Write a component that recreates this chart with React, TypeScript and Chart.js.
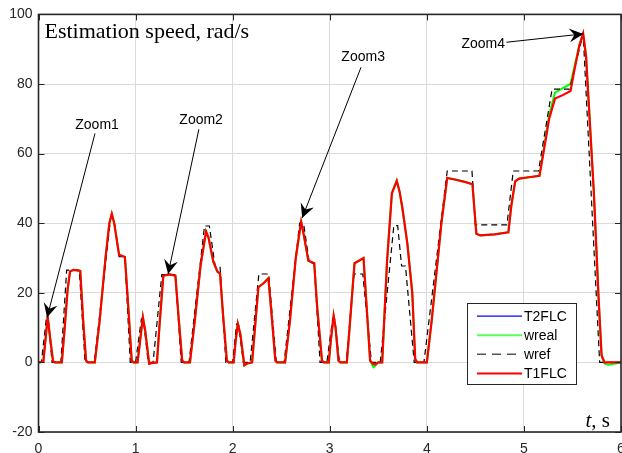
import React, { useEffect, useRef } from "react";
import { Chart, registerables } from "chart.js";

Chart.register(...registerables);

// ---------- data ----------
const X_TICKS = [0, 1, 2, 3, 4, 5, 6];
const Y_TICKS = [-20, 0, 20, 40, 60, 80, 100];

const TIME_EST = [
  0.0, 0.05, 0.07, 0.095, 0.12, 0.15, 0.17, 0.24, 0.27, 0.3, 0.325, 0.36, 0.43, 0.46, 0.49, 0.51,
  0.58, 0.63, 0.69, 0.73, 0.755, 0.78, 0.83, 0.89, 0.92, 0.96, 0.98,
  1.02, 1.05, 1.075, 1.1, 1.14, 1.16, 1.22, 1.25, 1.286, 1.35, 1.41, 1.44, 1.48, 1.5,
  1.56, 1.61, 1.67, 1.726, 1.75, 1.8, 1.843, 1.87, 1.9, 1.94, 1.96,
  2.01, 2.03, 2.053, 2.08, 2.12, 2.15, 2.2, 2.23, 2.265, 2.32, 2.368, 2.4, 2.44, 2.46,
  2.54, 2.59, 2.65, 2.705, 2.73, 2.78, 2.84, 2.87, 2.92, 2.94,
  2.99, 3.01, 3.04, 3.06, 3.09, 3.11, 3.176, 3.21, 3.255, 3.3, 3.348, 3.38, 3.416, 3.45, 3.468, 3.5,
  3.54, 3.59, 3.64, 3.69, 3.72, 3.75, 3.8, 3.85, 3.88, 3.9,
  4.0, 4.05, 4.1, 4.15, 4.21, 4.3, 4.4, 4.47, 4.49, 4.51, 4.55, 4.7, 4.84, 4.87, 4.91, 4.95,
  5.05, 5.16, 5.2, 5.26, 5.32, 5.4, 5.48, 5.52, 5.57, 5.61, 5.64, 5.72, 5.77, 5.8, 5.83, 5.87, 6.0,
];

const T1FLC = [
  0, 0.2, 6, 13, 7, 0.3, 0, 0, 10, 21, 26.1, 26.6, 26.3, 12, 0.5, 0,
  0, 12, 30, 40, 42.7, 40, 30.9, 30.3, 18, 0.5, 0,
  0, 7, 13, 9, -0.4, -0.2, 0, 12, 24.9, 25.3, 24.9, 14, 0.5, 0,
  0, 12, 28, 37.6, 36, 29, 26.1, 25.5, 14, 0.5, 0,
  0, 6, 11.1, 8, -0.8, -0.3, 0, 10, 21.6, 22.8, 24.2, 14, 0.5, 0,
  0, 12, 30, 40.4, 37, 29.2, 28.5, 16, 0.5, 0,
  0, 6, 13.4, 10, 0.5, 0, 0, 12, 28.5, 29.2, 30, 16, 0.5, -0.5, -0.6, 0,
  0, 29, 48.6, 52.2, 49, 44, 34, 20, 1, 0,
  0, 12, 26, 40, 53, 52.5, 51.8, 51.2, 44, 37, 36.5, 36.8, 37.4, 45, 52, 52.8,
  53.2, 53.6, 60, 70, 75.8, 76.8, 78, 84, 91, 94.5, 88, 49, 18, 2, 0, 0, 0,
];

const WREAL = [
  0, 0.2, 6, 13, 7, 0.3, 0, 0, 10, 21, 26.1, 26.6, 26.3, 12, 0.5, 0,
  0, 12, 30, 40, 42.7, 40, 30.9, 30.3, 18, 0.5, 0,
  0, 7, 13, 9, -0.4, -0.2, 0, 12, 24.9, 25.3, 24.9, 14, 0.5, 0,
  0, 12, 28, 37.6, 36, 29, 26.1, 25.5, 14, 0.5, 0,
  0, 6, 11.1, 8, -0.9, -0.3, 0, 10, 21.6, 22.8, 24.2, 14, 0.5, 0,
  0, 12, 30, 40.4, 37, 29.2, 28.5, 16, 0.5, 0,
  0, 6, 13.4, 10, 0.5, 0, 0, 12, 28.5, 29.2, 30, 16, 0.5, -1.4, -1.0, 0,
  0, 29, 48.6, 52.2, 49, 44, 34, 20, 1, 0,
  0, 12, 26, 40, 53, 52.5, 51.8, 51.2, 44, 37, 36.5, 36.8, 37.4, 45, 52, 52.8,
  53.2, 53.6, 60.5, 71, 77.5, 78.8, 80, 85, 91, 94.5, 88, 49, 18, 2, -0.3, -0.7, 0,
];

const T2FLC = [
  0, 0.2, 6, 13, 7, 0.3, 0, 0, 10, 21, 26.1, 26.6, 26.3, 12, 0.5, 0,
  0, 12, 30, 40, 42.7, 40, 30.9, 30.3, 18, 0.5, 0,
  0, 7, 13, 9, -0.4, -0.2, 0, 12, 24.9, 25.3, 24.9, 14, 0.5, 0,
  0, 12, 28, 37.6, 36, 29, 26.1, 25.5, 14, 0.5, 0,
  0, 6, 11.1, 8, -0.8, -0.3, 0, 10, 21.6, 22.8, 24.2, 14, 0.5, 0,
  0, 12, 30, 40.4, 37, 29.2, 28.5, 16, 0.5, 0,
  0, 6, 13.4, 10, 0.5, 0, 0, 12, 28.5, 29.2, 30, 16, 0.5, -0.5, -0.6, 0,
  0, 29, 48.6, 52.2, 49, 44, 34, 20, 1, 0,
  0, 12, 26, 40, 53, 52.5, 51.8, 51.2, 44, 37, 36.5, 36.8, 37.4, 45, 52, 52.8,
  53.2, 53.6, 60, 70, 75.8, 76.8, 78, 84, 91, 94.5, 88, 49, 18, 2, 0, 0, 0,
];

const TIME_REF = [
  0.0, 0.03, 0.08, 0.1, 0.14, 0.23, 0.29, 0.42, 0.48,
  0.575, 0.735, 0.785, 0.83, 0.89, 0.945,
  1.0, 1.06, 1.08, 1.13, 1.18, 1.27, 1.41, 1.47,
  1.55, 1.71, 1.76, 1.82, 1.87, 1.93,
  2.0, 2.04, 2.06, 2.11, 2.18, 2.27, 2.37, 2.45,
  2.53, 2.69, 2.73, 2.79, 2.84, 2.9,
  2.97, 3.03, 3.05, 3.1, 3.17, 3.25, 3.34, 3.43,
  3.52, 3.66, 3.7, 3.74, 3.78, 3.87,
  3.97, 4.21, 4.465, 4.5, 4.825, 4.89, 5.15, 5.29, 5.47, 5.61, 5.78, 6.0,
];

const WREF = [
  0, 0, 12.5, 12.5, 0, 0, 26.5, 26.5, 0,
  0, 39.5, 39.5, 30.4, 30.4, 0,
  0, 12.5, 12.5, 0, 0, 25.2, 25.2, 0,
  0, 39.2, 39.2, 27.5, 27.5, 0,
  0, 11, 11, 0, 0, 25.4, 25.4, 0,
  0, 40, 40, 28.5, 28.5, 0,
  0, 12.5, 12.5, 0, 0, 25.4, 25.4, 0,
  0, 39.3, 39.3, 27.7, 27.7, 0,
  0, 55, 55, 39.5, 39.5, 55, 55, 78.5, 78.5, 94.5, 0, 0,
];

const LEGEND_LABELS = ["T2FLC", "wreal", "wref", "T1FLC"];
const TITLE = "Estimation speed, rad/s";
const AXIS_LABEL_ITALIC = "t";
const AXIS_LABEL_REST = ", s";

// annotation labels (text centre, arrow start, arrow tip) in data units
const ANNOTATIONS = [
  { label: "Zoom1", text: [0.603, 68.1], from: [0.582, 65.8], to: [0.088, 12.9] },
  { label: "Zoom2", text: [1.675, 69.6], from: [1.652, 67.0], to: [1.335, 25.4] },
  { label: "Zoom3", text: [3.344, 87.7], from: [3.322, 84.8], to: [2.716, 41.5] },
  { label: "Zoom4", text: [4.581, 91.4], from: [4.82, 92.0], to: [5.612, 94.4] },
];

// ---------- styling ----------
const SANS = "'Liberation Sans', Arial, Helvetica, sans-serif";
const SERIF = "'Liberation Serif', 'Times New Roman', Times, serif";
const AXIS_COLOR = "#262626";
const GRID_COLOR = "#dadada";
const COLORS = { t2: "#0000ff", wreal: "#00ff00", wref: "#000000", t1: "#ff0000" };

function pts(xs: number[], ys: number[]) {
  return xs.map((x, i) => ({ x, y: ys[i] }));
}

function drawArrow(ctx: CanvasRenderingContext2D, x1: number, y1: number, x2: number, y2: number) {
  ctx.beginPath();
  ctx.moveTo(x1, y1);
  ctx.lineTo(x2, y2);
  ctx.stroke();
  const ang = Math.atan2(y2 - y1, x2 - x1);
  const L = 14;
  const W = 7;
  const notch = 5;
  const bx = x2 - L * Math.cos(ang);
  const by = y2 - L * Math.sin(ang);
  const nx = -Math.sin(ang);
  const ny = Math.cos(ang);
  const cx = x2 - (L - notch) * Math.cos(ang);
  const cy = y2 - (L - notch) * Math.sin(ang);
  ctx.beginPath();
  ctx.moveTo(x2, y2);
  ctx.lineTo(bx + nx * W, by + ny * W);
  ctx.lineTo(cx, cy);
  ctx.lineTo(bx - nx * W, by - ny * W);
  ctx.closePath();
  ctx.fill();
}

const overlayPlugin = {
  id: "overlay",
  afterDatasetsDraw(chart: any) {
    const { ctx, chartArea: a, scales } = chart;
    const xs = scales.x;
    const ys = scales.y;
    ctx.save();

    // inner tick marks
    ctx.strokeStyle = AXIS_COLOR;
    ctx.lineWidth = 1;
    ctx.beginPath();
    for (const v of X_TICKS) {
      const px = Math.round(xs.getPixelForValue(v)) + 0.5;
      ctx.moveTo(px, a.bottom);
      ctx.lineTo(px, a.bottom - 6);
      ctx.moveTo(px, a.top);
      ctx.lineTo(px, a.top + 6);
    }
    for (const v of Y_TICKS) {
      const py = Math.round(ys.getPixelForValue(v)) + 0.5;
      ctx.moveTo(a.left, py);
      ctx.lineTo(a.left + 6, py);
      ctx.moveTo(a.right, py);
      ctx.lineTo(a.right - 6, py);
    }
    ctx.stroke();

    // box
    ctx.lineWidth = 1.6;
    ctx.strokeRect(a.left, a.top, a.right - a.left, a.bottom - a.top);

    // x tick labels
    ctx.fillStyle = AXIS_COLOR;
    ctx.font = `14px ${SANS}`;
    ctx.textAlign = "center";
    ctx.textBaseline = "alphabetic";
    for (const v of X_TICKS) {
      ctx.fillText(String(v), xs.getPixelForValue(v), a.bottom + 21);
    }

    // title
    ctx.fillStyle = "#000";
    ctx.font = `22px ${SERIF}`;
    ctx.textAlign = "left";
    ctx.textBaseline = "alphabetic";
    ctx.fillText(TITLE, a.left + 6, a.top + 24);

    // t, s
    ctx.font = `21px ${SERIF}`;
    const w2 = ctx.measureText(AXIS_LABEL_REST).width;
    ctx.font = `italic 21px ${SERIF}`;
    const w1 = ctx.measureText(AXIS_LABEL_ITALIC).width;
    const sx = a.right - 11 - w1 - w2;
    const sy = a.bottom - 5;
    ctx.fillText(AXIS_LABEL_ITALIC, sx, sy);
    ctx.font = `21px ${SERIF}`;
    ctx.fillText(AXIS_LABEL_REST, sx + w1, sy);

    // annotations
    ctx.font = `14px ${SANS}`;
    ctx.textAlign = "center";
    ctx.textBaseline = "middle";
    ctx.strokeStyle = "#000";
    ctx.fillStyle = "#000";
    ctx.lineWidth = 1;
    for (const an of ANNOTATIONS) {
      ctx.fillText(an.label, xs.getPixelForValue(an.text[0]), ys.getPixelForValue(an.text[1]));
      drawArrow(
        ctx,
        xs.getPixelForValue(an.from[0]),
        ys.getPixelForValue(an.from[1]),
        xs.getPixelForValue(an.to[0]),
        ys.getPixelForValue(an.to[1])
      );
    }

    // legend
    const lw = 109;
    const lh = 81;
    const lx = Math.round(a.right - 45 - lw) + 0.5;
    const ly = Math.round(a.bottom - 48 - lh) + 0.5;
    ctx.fillStyle = "#fff";
    ctx.fillRect(lx, ly, lw, lh);
    ctx.strokeStyle = AXIS_COLOR;
    ctx.lineWidth = 1;
    ctx.strokeRect(lx, ly, lw, lh);
    const rows = [12.7, 31.7, 50.7, 70];
    const styles = [
      { c: COLORS.t2, w: 1.2, d: [] as number[] },
      { c: "#55ff55", w: 2, d: [] as number[] },
      { c: "#555555", w: 1.6, d: [9, 6] },
      { c: COLORS.t1, w: 2.2, d: [] as number[] },
    ];
    ctx.textAlign = "left";
    ctx.textBaseline = "middle";
    ctx.font = `14px ${SANS}`;
    LEGEND_LABELS.forEach((lab, i) => {
      const yy = ly + rows[i];
      const s = styles[i];
      ctx.strokeStyle = s.c;
      ctx.lineWidth = s.w;
      ctx.setLineDash(s.d);
      ctx.beginPath();
      ctx.moveTo(lx + 9.5, yy);
      ctx.lineTo(lx + 54.5, yy);
      ctx.stroke();
      ctx.setLineDash([]);
      ctx.fillStyle = "#000";
      ctx.fillText(lab, lx + 56.5, yy + 0.5);
    });

    ctx.restore();
  },
};

export default function App() {
  const ref = useRef<HTMLCanvasElement | null>(null);

  useEffect(() => {
    if (!ref.current) return;
    const chart = new Chart(ref.current, {
      type: "line",
      data: {
        datasets: [
          {
            label: "T1FLC",
            data: pts(TIME_EST, T1FLC),
            borderColor: COLORS.t1,
            borderWidth: 2.2,
            pointRadius: 0,
            tension: 0,
          },
          {
            label: "wref",
            data: pts(TIME_REF, WREF),
            borderColor: COLORS.wref,
            borderWidth: 1.2,
            borderDash: [6, 4],
            pointRadius: 0,
            tension: 0,
          },
          {
            label: "wreal",
            data: pts(TIME_EST, WREAL),
            borderColor: COLORS.wreal,
            borderWidth: 2,
            pointRadius: 0,
            tension: 0,
          },
          {
            label: "T2FLC",
            data: pts(TIME_EST, T2FLC),
            borderColor: COLORS.t2,
            borderWidth: 1,
            pointRadius: 0,
            tension: 0,
          },
        ],
      },
      options: {
        animation: false,
        responsive: false,
        maintainAspectRatio: false,
        devicePixelRatio: 1,
        layout: { autoPadding: false, padding: { top: 14, right: 1, left: 0, bottom: 0 } },
        plugins: { legend: { display: false }, tooltip: { enabled: false } },
        scales: {
          x: {
            type: "linear",
            min: 0,
            max: 6,
            afterFit: (s: any) => {
              s.height = 21;
              s.paddingLeft = 0;
              s.paddingRight = 0;
            },
            afterBuildTicks: (s: any) => {
              s.ticks = X_TICKS.map((v) => ({ value: v }));
            },
            ticks: { display: false },
            grid: { color: GRID_COLOR, lineWidth: 1, drawTicks: false },
            border: { display: false },
          },
          y: {
            type: "linear",
            min: -20,
            max: 100,
            afterFit: (s: any) => {
              s.width = 38.5;
            },
            afterBuildTicks: (s: any) => {
              s.ticks = Y_TICKS.map((v) => ({ value: v }));
            },
            ticks: {
              color: AXIS_COLOR,
              font: { family: SANS, size: 14 },
              padding: 6,
              autoSkip: false,
            },
            grid: { color: GRID_COLOR, lineWidth: 1, drawTicks: false },
            border: { display: false },
          },
        },
      },
      plugins: [overlayPlugin],
    });
    return () => chart.destroy();
  }, []);

  return (
    <div style={{ position: "fixed", left: 0, top: 0, width: 622, height: 453, background: "#fff" }}>
      <canvas ref={ref} width={622} height={453} style={{ display: "block", width: 622, height: 453 }} />
    </div>
  );
}
